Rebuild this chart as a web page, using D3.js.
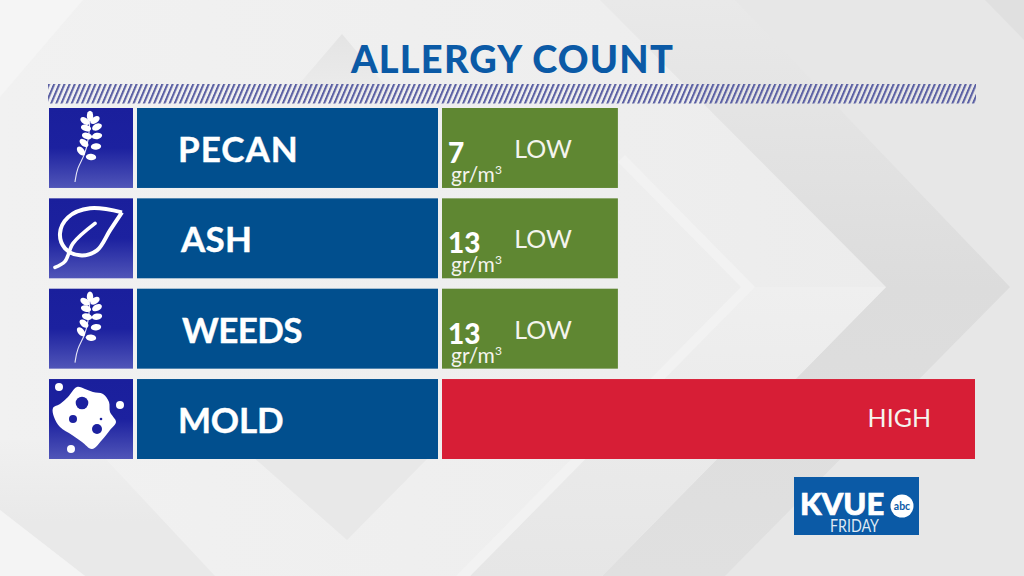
<!DOCTYPE html>
<html>
<head>
<meta charset="utf-8">
<title>Allergy Count</title>
<script src="https://cdn.jsdelivr.net/npm/d3@7"></script>
<style>
  html, body { margin: 0; padding: 0; background: #e8e8e8; overflow: hidden; }
  svg { display: block; }
  text { font-family: Lato, "Open Sans", sans-serif; }
</style>
</head>
<body>
<div id="grafico"></div>
<script>
// Chart data
const titulo = "ALLERGY COUNT";
const alergenos = ["PECAN", "ASH", "WEEDS", "MOLD"];
const iconos = ["sprig", "leaf", "sprig", "mold"];
const cuentas = [7, 13, 13, null];
const niveles = ["LOW", "LOW", "LOW", "HIGH"];
const nivelValor = [33, 33, 33, 100];
const unidad = "gr/m";
const logoNombre = "KVUE";
const logoDia = "FRIDAY";

const WIDTH = 1024;
const HEIGHT = 576;

const colorNivel = d3.scaleOrdinal().domain(["LOW", "HIGH"]).range(["#5f8732", "#d71e36"]);

var y = d3.scaleBand().domain(alergenos).range([108, 459]).paddingInner(0.115);
var x = d3.scaleLinear().domain([0, 100]).range([442, 975]);

var svg = d3.select("#grafico").append("svg")
    .attr("width", WIDTH)
    .attr("height", HEIGHT);

var defs = svg.append("defs");

function degradado(id, x1, y1, x2, y2, paradas) {
    var g = defs.append("linearGradient").attr("id", id)
        .attr("x1", x1).attr("y1", y1).attr("x2", x2).attr("y2", y2);
    paradas.forEach(function (p) {
        g.append("stop").attr("offset", p[0]).attr("stop-color", p[1]);
    });
}

degradado("fondo", 0, 0, 1, 0, [[0, "#f1f1f1"], [0.6, "#eeeeee"], [1, "#ebebeb"]]);
degradado("icono", 0, 0, 0, 1, [[0, "#1a1f9c"], [0.5, "#1c219f"], [1, "#5055b8"]]);
degradado("oscuro", 0, 0, 0, 1, [[0, "#e9e9e9"], [0.5, "#dcdcdc"], [1, "#e0e0e0"]]);
degradado("bajo", 0, 0, 0, 1, [[0, "#efefef"], [1, "#e6e6e6"]]);
degradado("triangulo", 0, 0, 0, 1, [[0, "#e4e4e4"], [1, "#ececec"]]);
degradado("izquierda", 0, 0, 0, 1, [[0, "#f0f0f0"], [0.6, "#e9e9e9"], [1, "#e9e9e9"]]);

defs.append("pattern").attr("id", "rayas")
    .attr("width", 5.15).attr("height", 20)
    .attr("patternUnits", "userSpaceOnUse")
    .attr("patternTransform", "translate(48,84) skewX(-23)")
    .append("rect")
    .attr("width", 2.2).attr("height", 20)
    .attr("fill", "#5a5fa3");

// Background chevrons
var fondo = svg.append("g");
fondo.append("rect").attr("width", WIDTH).attr("height", HEIGHT).attr("fill", "url(#fondo)");

var formas = [
    { p: "600,0 1024,0 1024,576 602,576 886,287", c: "url(#oscuro)" },
    { p: "735,0 1024,0 1024,576 725,576 1010,287", c: "#e7e7e7" },
    { p: "985,0 1024,0 1024,40", c: "#e0e0e0" },
    { p: "755,287 886,287 602,576 470,576", c: "url(#bajo)" },
    { p: "625,155 755,287 470,576 456,576 741,287 618,162", c: "#f2f2f2" },
    { p: "0,0 83,0 0,97", c: "#f5f5f5" },
    { p: "342,34 288,97 395,97", c: "url(#triangulo)" },
    { p: "251,455 431,455 347,540", c: "#e8e8e8" },
    { p: "0,440 88,440 215,576 85,576 0,510", c: "url(#izquierda)" },
    { p: "0,510 85,576 0,576", c: "#f4f4f4" }
];
fondo.selectAll("polygon")
    .data(formas)
    .enter()
    .append("polygon")
    .attr("points", function (d) { return d.p; })
    .attr("fill", function (d) { return d.c; });

// Title and stripe band
svg.append("text")
    .attr("x", 512.5)
    .attr("y", 73)
    .attr("text-anchor", "middle")
    .attr("font-size", 38)
    .attr("font-weight", 900)
    .attr("letter-spacing", 1.2)
    .attr("fill", "#0b5aa6")
    .text(titulo);

svg.append("rect")
    .attr("x", 48).attr("y", 84)
    .attr("width", 928).attr("height", 19.5)
    .attr("fill", "url(#rayas)");

// Rows
var filas = svg.selectAll(".fila")
    .data(alergenos)
    .enter()
    .append("g")
    .attr("class", "fila")
    .attr("transform", function (d) { return "translate(0," + y(d) + ")"; });

filas.append("rect")
    .attr("x", 49).attr("width", 84)
    .attr("height", y.bandwidth())
    .attr("fill", "url(#icono)");

filas.append("rect")
    .attr("x", 137).attr("width", 301)
    .attr("height", y.bandwidth())
    .attr("fill", "#014f8e");

filas.append("rect")
    .attr("x", x(0))
    .attr("width", function (d, i) { return x(nivelValor[i]) - x(0); })
    .attr("height", y.bandwidth())
    .attr("fill", function (d, i) { return colorNivel(niveles[i]); });

const ajusteNombre = [178, 181, 182, 178];
const espacioNombre = [1, 0.2, -0.6, -0.2];
filas.append("text")
    .attr("x", function (d, i) { return ajusteNombre[i]; })
    .attr("y", 54)
    .attr("font-size", 35)
    .attr("font-weight", 700)
    .attr("letter-spacing", function (d, i) { return espacioNombre[i]; })
    .attr("stroke", "#fff")
    .attr("stroke-width", 0.4)
    .attr("fill", "#fff")
    .text(function (d) { return d; });

filas.append("text")
    .attr("x", function (d, i) { return x(nivelValor[i]) - (niveles[i] == "HIGH" ? 44 : 46); })
    .attr("y", function (d, i) { return niveles[i] == "HIGH" ? 48 : 50; })
    .attr("text-anchor", "end")
    .attr("font-size", 25)
    .attr("font-weight", 400)
    .attr("fill", "#f4f4ee")
    .text(function (d, i) { return niveles[i]; });

// Counts only exist for the pollen rows
var conCuenta = filas.filter(function (d, i) { return cuentas[i] !== null; });

conCuenta.append("text")
    .attr("x", 448)
    .attr("y", 55)
    .attr("font-size", 28)
    .attr("font-weight", 900)
    .attr("fill", "#fff")
    .text(function (d) { return cuentas[alergenos.indexOf(d)]; });

var textoUnidad = conCuenta.append("text")
    .attr("x", 451)
    .attr("y", 74)
    .attr("font-size", 21)
    .attr("font-weight", 400)
    .attr("fill", "#f4f4ee")
    .text(unidad);

textoUnidad.append("tspan")
    .attr("font-size", 12)
    .attr("dy", -8)
    .text("3");

// Icons, drawn in a local 84x80 box
var linea = d3.line().curve(d3.curveCatmullRomClosed);
var lineaAbierta = d3.line().curve(d3.curveBasis);

const hojasRama = [[41, 8, 90], [36, 13, 35], [46, 12, -35], [37, 20, 15], [48, 19, -25],
    [38, 28, 15], [48, 28, -10], [35, 35, 40], [47, 38.5, -5], [32, 43, 50], [42, 49, 5]];

function dibujarRama(g) {
    g.append("path")
        .attr("d", lineaAbierta([[26, 74], [28, 60], [36, 47], [40, 30], [41, 8]]))
        .attr("fill", "none")
        .attr("stroke", "#e8e8f8")
        .attr("stroke-width", 1.1);
    g.selectAll("ellipse")
        .data(hojasRama)
        .enter()
        .append("ellipse")
        .attr("rx", 5.2)
        .attr("ry", 3.2)
        .attr("fill", "#fff")
        .attr("transform", function (d) { return "translate(" + d[0] + "," + d[1] + ") rotate(" + d[2] + ")"; });
}

function dibujarHoja(g) {
    g.append("path")
        .attr("d", d3.line().curve(d3.curveCatmullRom)([[73, 14], [61, 32], [48, 52], [31, 57], [16, 50], [11, 35], [19, 19], [41, 10], [73, 14]]))
        .attr("fill", "none")
        .attr("stroke", "#fff")
        .attr("stroke-width", 4)
        .attr("stroke-linejoin", "round");
    g.append("path")
        .attr("d", d3.line().curve(d3.curveCatmullRom)([[6, 69], [16, 63], [24, 45], [46, 25]]))
        .attr("fill", "none")
        .attr("stroke", "#fff")
        .attr("stroke-width", 3.6)
        .attr("stroke-linecap", "round");
}

function dibujarMoho(g) {
    g.append("path")
        .attr("d", linea([[4, 29], [11, 25], [19, 18], [28, 8], [36, 10], [44, 13], [54, 15], [60, 23], [61, 33], [67, 43], [61, 51], [53, 61], [43, 70], [33, 63], [23, 56], [11, 48], [5, 38]]))
        .attr("fill", "#fff");
    [[33, 24, 6.3], [24, 40, 4], [48, 50, 5], [52, 40, 1.3]].forEach(function (c) {
        g.append("circle").attr("cx", c[0]).attr("cy", c[1]).attr("r", c[2]).attr("fill", "#1c219f");
    });
    [[10, 8, 4], [71, 26, 4], [22, 70, 4]].forEach(function (c) {
        g.append("circle").attr("cx", c[0]).attr("cy", c[1]).attr("r", c[2]).attr("fill", "#fff");
    });
}

filas.append("g")
    .attr("transform", "translate(49,0)")
    .each(function (d, i) {
        var g = d3.select(this);
        if (iconos[i] == "sprig") dibujarRama(g);
        if (iconos[i] == "leaf") dibujarHoja(g);
        if (iconos[i] == "mold") dibujarMoho(g);
    });

// Station logo
var logo = svg.append("g").attr("transform", "translate(794,477)");
logo.append("rect").attr("width", 125).attr("height", 58).attr("fill", "#0b5aa6");
logo.append("text")
    .attr("x", 6).attr("y", 38)
    .attr("font-size", 31)
    .attr("font-weight", 900)
    .attr("stroke", "#fff")
    .attr("stroke-width", 0.7)
    .attr("fill", "#fff")
    .text(logoNombre);
logo.append("circle").attr("cx", 108).attr("cy", 29).attr("r", 11.5).attr("fill", "#fff");
logo.append("text")
    .attr("x", 108).attr("y", 32.5)
    .attr("text-anchor", "middle")
    .attr("font-size", 10.5)
    .attr("font-weight", 700)
    .attr("fill", "#0b5aa6")
    .text("abc");
logo.append("text")
    .attr("x", 36).attr("y", 55)
    .attr("font-size", 17)
    .attr("font-weight", 400)
    .attr("fill", "#dfe9f3")
    .attr("textLength", 49)
    .attr("lengthAdjust", "spacingAndGlyphs")
    .text(logoDia);
</script>
</body>
</html>
